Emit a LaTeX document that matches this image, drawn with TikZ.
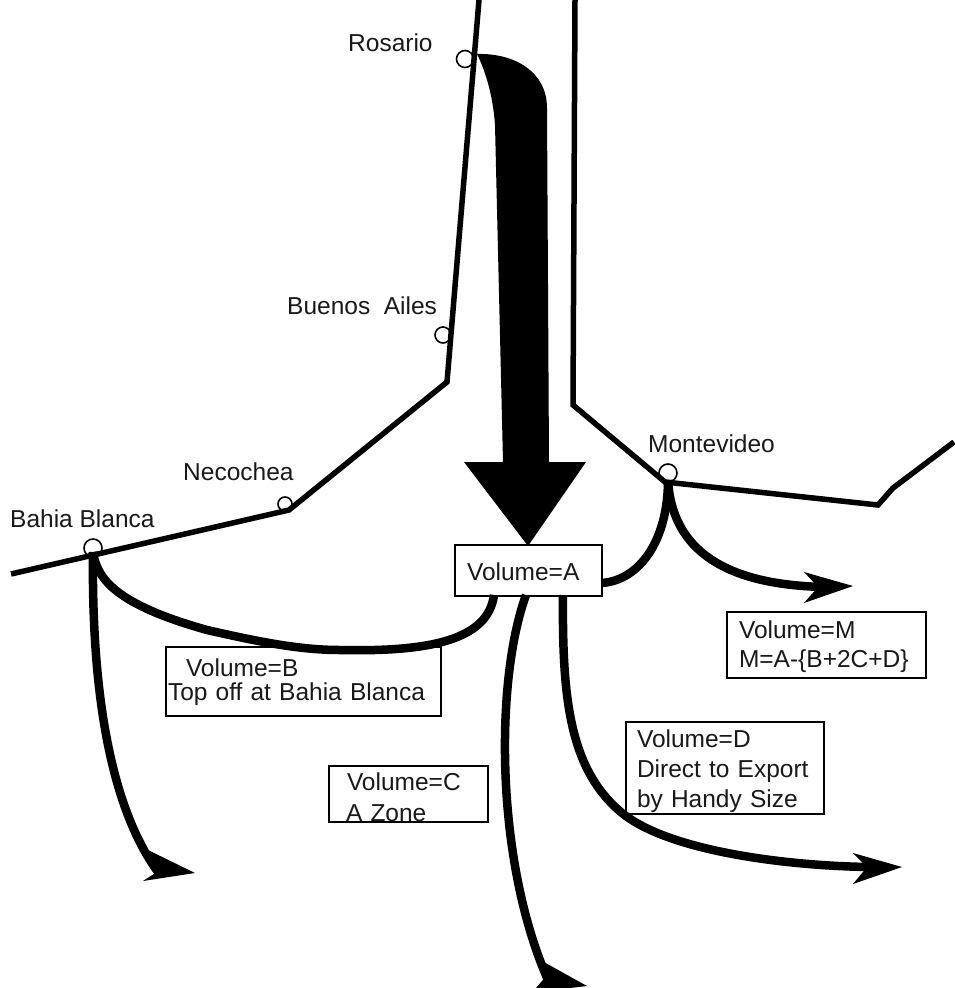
\documentclass[tikz,border=0pt]{standalone}
\usepackage{fontspec}
\setmainfont{Liberation Sans}
\begin{document}
\begin{tikzpicture}[x=1pt,y=-1pt,
  coast/.style={draw=black,line width=5.5pt,line join=miter},
  flow/.style={draw=black,line width=8.5pt},
  head/.style={fill=black},
  port/.style={circle,draw=black,fill=white,line width=1.6pt,minimum size=17pt,inner sep=0pt},
  lab/.style={font=\fontsize{24.5}{28}\selectfont,text=black!90,inner sep=0pt,anchor=west},
  box/.style={draw=black,fill=white,line width=2pt,inner ysep=0pt,align=left,font=\fontsize{24.5}{29}\selectfont,text=black!90}]
\useasboundingbox (0,0) rectangle (954,988);
% ports (lie under the coast line)
\node[port] (ros) at (465,59) {};
\node[port,minimum size=16pt] (ba) at (443,335) {};
\node[port,minimum size=14pt] (nec) at (285,504) {};
\node[port,minimum size=18pt] (bb) at (93,548) {};
\node[port,minimum size=18pt] (mon) at (668,473) {};
% coast
\draw[coast] (479,0) -- (447,382) -- (289,510) -- (11,574);
\draw[coast] (575,0) -- (573,405) -- (665,482) -- (878,505) -- (893,488) -- (954,442);
% large arrow
\fill[black] (477,54) .. controls (515,53) and (547,72) .. (547,108) -- (549,462) -- (586,462) -- (528,546) -- (464,462) -- (503,462) -- (495,125) .. controls (493,95) and (485,70) .. (477,54) -- cycle;
% boxes
\node[box,minimum height=51pt,text width=135pt,inner xsep=6pt] (a) at (528.5,570) {\rule{0pt}{21pt}\hspace{6pt}Volume=A};
\node[box,minimum height=69pt,text width=271pt,inner xsep=2pt,font=\fontsize{24.5}{24}\selectfont] (b) at (303.5,681.5) {\rule{0pt}{20pt}\hspace{18pt}Volume=B\\Top off at Bahia Blanca};
\node[box,minimum height=56pt,text width=141pt,inner xsep=9pt,font=\fontsize{24.5}{31}\selectfont] (c) at (408.5,794) {\rule{0pt}{24pt}\hspace{9pt}Volume=C\\\hspace{8pt}A Zone};
\node[box,minimum height=66pt,text width=187pt,inner xsep=6pt] (m) at (826.5,645) {\rule{0pt}{21pt}\hspace{6pt}Volume=M\\\hspace{6pt}M=A-\{B+2C+D\}};
\node[box,minimum height=92pt,text width=186pt,inner xsep=6pt,font=\fontsize{24.5}{30}\selectfont] (d) at (725,768) {\rule{0pt}{25pt}\hspace{5pt}Volume=D\\\hspace{5pt}Direct to Export\\\hspace{5pt}by Handy Size};
% free ends
\coordinate (bbs) at (93,552);
\coordinate (mons) at (668,480);
\coordinate (ab) at (494,595);
\coordinate (ac) at (526,595);
\coordinate (ad) at (563,595);
\coordinate (ar) at (602,583);
\coordinate (endm) at (825,587);
\coordinate (endl) at (158,872);
\coordinate (endc) at (548,980);
\coordinate (endd) at (870,867);
% flows
\draw[flow] (bbs) .. controls (97,580) and (118,605) .. (207,630) .. controls (260,642) and (300,650) .. (340,650) .. controls (430,652) and (488,640) .. (ab);
\draw[flow] (bbs) .. controls (92,640) and (98,790) .. (endl);
\draw[flow] (ar) .. controls (640,580) and (668,540) .. (mons);
\draw[flow] (mons) .. controls (672,550) and (725,585) .. (endm);
\draw[flow] (ac) .. controls (495,680) and (495,860) .. (endc);
\draw[flow] (ad) .. controls (562,700) and (570,770) .. (622,813) .. controls (670,852) and (790,866) .. (endd);
% arrowheads
\fill[head] (853,586) -- (804,572) -- (818,587) -- (804,603) -- cycle;
\fill[head] (195,873) -- (148,850) -- (160,870) -- (143,881) -- cycle;
\fill[head] (587,986) -- (542,961) -- (547,975) -- (536,988) -- (570,988) -- cycle;
\fill[head] (902,867) -- (853,853) -- (867,867) -- (853,884) -- cycle;
% labels
\node[lab] (l1) at (348,43) {Rosario};
\node[lab] (l2) at (287,306) {Buenos\ \ Ailes};
\node[lab] (l3) at (183,472) {Necochea};
\node[lab] (l4) at (10,519) {Bahia Blanca};
\node[lab] (l5) at (648,444) {Montevideo};
\end{tikzpicture}
\end{document}
